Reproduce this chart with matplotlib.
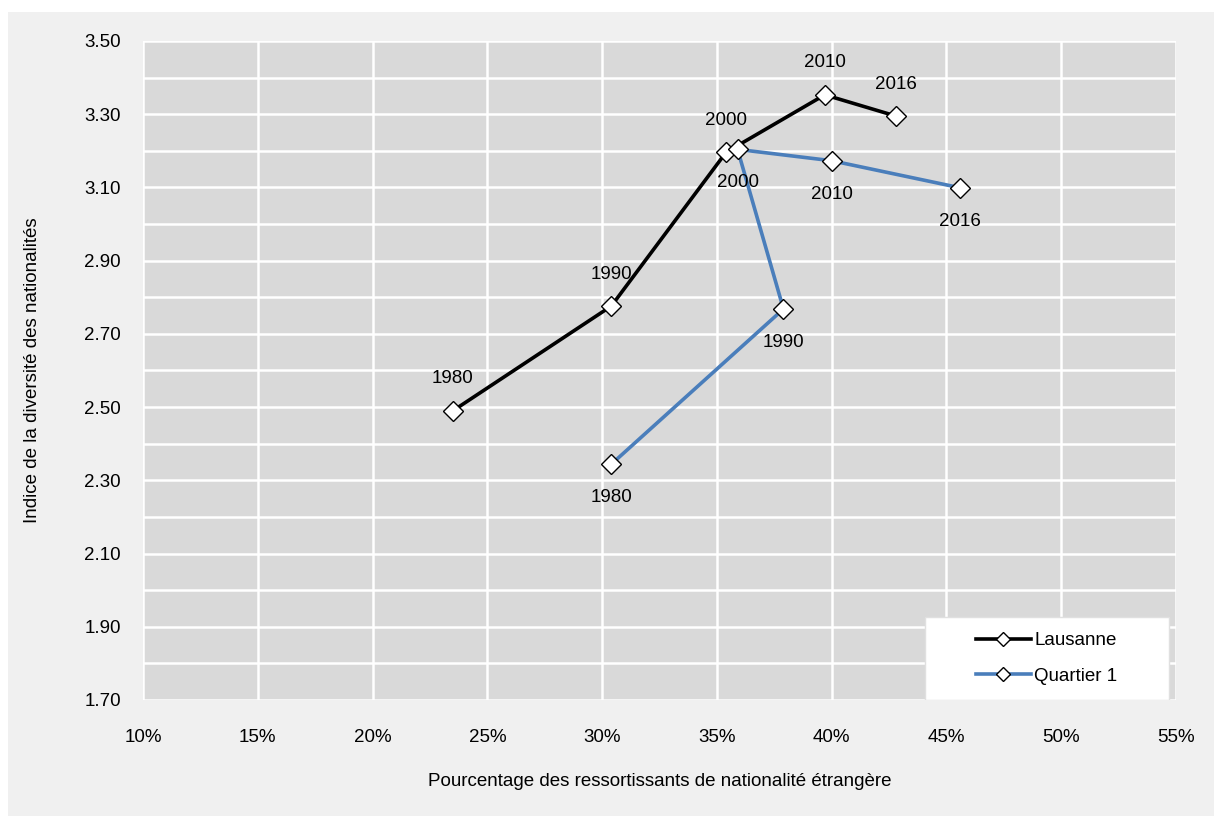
import matplotlib.pyplot as plt
from matplotlib.patches import Rectangle
from matplotlib.ticker import MultipleLocator, FuncFormatter

plt.rcParams['font.family'] = ['Liberation Sans Narrow', 'Liberation Sans', 'DejaVu Sans']

### Data ###
years = ["1980", "1990", "2000", "2010", "2016"]

lausanne_pct = [23.5, 30.4, 35.4, 39.7, 42.8]
lausanne_idx = [2.49, 2.776, 3.196, 3.353, 3.295]

quartier_pct = [30.4, 37.9, 35.9, 40.0, 45.6]
quartier_idx = [2.344, 2.768, 3.204, 3.173, 3.099]

FS = 13.5

### Figure ###
fig = plt.figure(figsize=(12.14, 8.16), dpi=100, facecolor="white")
fig.patches.append(Rectangle((8 / 1214, 0), 1, 1 - 12 / 816, transform=fig.transFigure,
                             facecolor="#f0f0f0", edgecolor="none", zorder=-10))

ax = fig.add_axes([143 / 1214, 1 - 700 / 816, (1176 - 143) / 1214, (700 - 41) / 816])
ax.set_facecolor("#d9d9d9")

ax.plot(lausanne_pct, lausanne_idx, color="black", lw=2.6, marker="D", ms=10.5,
        mfc="white", mec="black", mew=1.0, label="Lausanne", zorder=3)
ax.plot(quartier_pct, quartier_idx, color="#4a7ebb", lw=2.6, marker="D", ms=10.5,
        mfc="white", mec="black", mew=1.0, label="Quartier 1", zorder=3)

for yr, x, y in zip(years, lausanne_pct, lausanne_idx):
    ax.annotate(yr, (x, y), xytext=(0, 23), textcoords="offset points",
                ha="center", va="center", fontsize=FS, zorder=4)
for yr, x, y in zip(years, quartier_pct, quartier_idx):
    ax.annotate(yr, (x, y), xytext=(0, -24), textcoords="offset points",
                ha="center", va="center", fontsize=FS, zorder=4)

ax.set_xlim(10, 55)
ax.set_ylim(1.70, 3.50)
ax.xaxis.set_major_locator(MultipleLocator(5))
ax.yaxis.set_major_locator(MultipleLocator(0.2, offset=0.1))
ax.yaxis.set_minor_locator(MultipleLocator(0.1))
ax.xaxis.set_major_formatter(FuncFormatter(lambda v, p: f"{v:.0f}%"))
ax.yaxis.set_major_formatter(FuncFormatter(lambda v, p: f"{v:.2f}"))

ax.grid(True, which="both", color="white", lw=1.8)
ax.set_axisbelow(True)
for s in ax.spines.values():
    s.set_visible(False)
ax.tick_params(which="both", length=0, labelsize=FS)
ax.tick_params(axis="x", pad=21)
ax.tick_params(axis="y", pad=16)

ax.set_xlabel("Pourcentage des ressortissants de nationalité étrangère", fontsize=FS, labelpad=19)
ax.set_ylabel("Indice de la diversité des nationalités", fontsize=FS, labelpad=31)

### Legend ###
ax.add_patch(Rectangle((0.757, 0.0), 0.236, 0.126, transform=ax.transAxes,
                       facecolor="white", edgecolor="#e0e0e0", lw=1, zorder=5))
leg = ax.legend(loc="center", bbox_to_anchor=(0.875, 0.063), frameon=False,
                fontsize=FS, handlelength=2.9, handletextpad=0.2, labelspacing=1.0,
                markerscale=0.65)
leg.set_zorder(6)

fig.savefig("out.png", dpi=100, facecolor=fig.get_facecolor())
